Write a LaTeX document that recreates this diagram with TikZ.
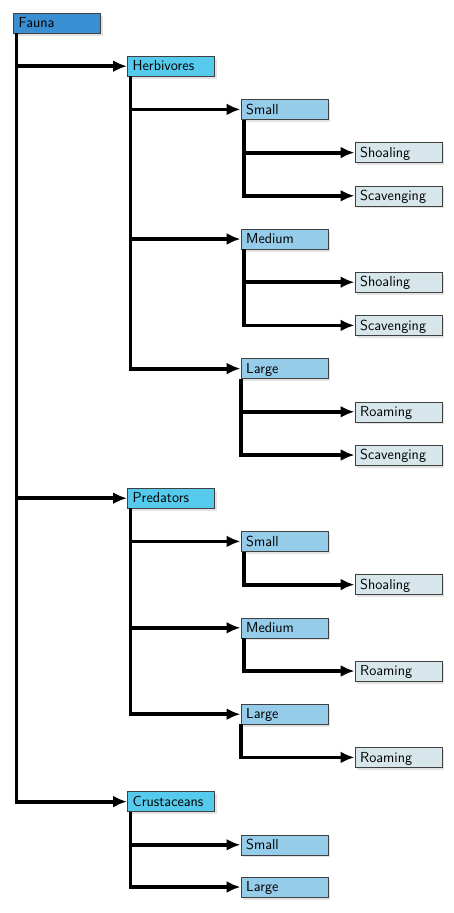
\documentclass[tikz,border=0pt]{standalone}
\usepackage{tikz}
\usetikzlibrary{arrows.meta,shadows,positioning,calc}

\definecolor{rootblue}{HTML}{3A8FD3}
\definecolor{groupcyan}{HTML}{56CAEC}
\definecolor{sizeblue}{HTML}{95CCEA}
\definecolor{habitgray}{HTML}{D6E6EA}

\begin{document}
\begin{tikzpicture}[x=1pt,y=-1pt,
    box/.style={rectangle,draw=black!75,anchor=west,minimum width=87pt,minimum height=20pt,
      text width=76pt,inner xsep=5.5pt,inner ysep=0pt,align=left,text height=11.5pt,text depth=2pt,
      font=\sffamily\fontsize{14.5}{16}\selectfont,
      drop shadow={shadow xshift=2.5pt,shadow yshift=-2.5pt,fill=black!22}},
    rootbox/.style={box,fill=rootblue},
    groupbox/.style={box,fill=groupcyan},
    sizebox/.style={box,fill=sizeblue},
    habitbox/.style={box,fill=habitgray},
    edge/.style={line width=3.8pt,-{Latex[length=14pt,width=12pt]}}]
		\useasboundingbox (0,0) rectangle (454,913);

		\node[rootbox] (fauna) at (13, 23) {Fauna};

		\node[groupbox] (herb) at (127, 66.2) {Herbivores};
		\node[sizebox] (hsmall) at (240.5, 109.4) {Small};
		\node[habitbox] (hshoal) at (354.5, 152.6) {Shoaling};
		\node[habitbox] (hscavA) at (354.5, 195.8) {Scavenging};
		\node[sizebox] (hmedium) at (240.5, 239) {Medium};
		\node[habitbox] (hshoalB) at (354.5, 282.2) {Shoaling};
		\node[habitbox] (hscavB) at (354.5, 325.4) {Scavenging};
		\node[sizebox] (hlarge) at (240.5, 368.6) {Large};
		\node[habitbox] (hroam) at (354.5, 411.8) {Roaming};
		\node[habitbox] (hscavC) at (354.5, 455) {Scavenging};

		\node[groupbox] (pred) at (127, 498.2) {Predators};
		\node[sizebox] (psmall) at (240.5, 541.4) {Small};
		\node[habitbox] (pshoal) at (354.5, 584.6) {Shoaling};
		\node[sizebox] (pmedium) at (240.5, 627.8) {Medium};
		\node[habitbox] (proamA) at (354.5, 671) {Roaming};
		\node[sizebox] (plarge) at (240.5, 714.2) {Large};
		\node[habitbox] (proamB) at (354.5, 757.4) {Roaming};

		\node[groupbox] (crust) at (127, 801.6) {Crustaceans};
		\node[sizebox] (csmall) at (240.5, 844.8) {Small};
		\node[sizebox] (clarge) at (240.5, 887) {Large};

		% fauna
		\draw[edge] ([xshift=3.5pt]fauna.south west) |- (herb.west);
		\draw[edge] ([xshift=3.5pt]fauna.south west) |- (pred.west);
		\draw[edge] ([xshift=3.5pt]fauna.south west) |- (crust.west);
		% herbivores
		\draw[edge] ([xshift=3.5pt]herb.south west) |- (hsmall.west);
		\draw[edge] ([xshift=3.5pt]herb.south west) |- (hmedium.west);
		\draw[edge] ([xshift=3.5pt]herb.south west) |- (hlarge.west);
		\draw[edge] ([xshift=3.5pt]hsmall.south west) |- (hshoal.west);
		\draw[edge] ([xshift=3.5pt]hsmall.south west) |- (hscavA.west);
		\draw[edge] ([xshift=3.5pt]hmedium.south west) |- (hshoalB.west);
		\draw[edge] ([xshift=3.5pt]hmedium.south west) |- (hscavB.west);
		\draw[edge] ([xshift=0.5pt]hlarge.south west) |- (hroam.west);
		\draw[edge] ([xshift=0.5pt]hlarge.south west) |- (hscavC.west);
		% predators
		\draw[edge] ([xshift=3.5pt]pred.south west) |- (psmall.west);
		\draw[edge] ([xshift=3.5pt]pred.south west) |- (pmedium.west);
		\draw[edge] ([xshift=3.5pt]pred.south west) |- (plarge.west);
		\draw[edge] ([xshift=3.5pt]psmall.south west) |- (pshoal.west);
		\draw[edge] ([xshift=3.5pt]pmedium.south west) |- (proamA.west);
		\draw[edge] ([xshift=0.5pt]plarge.south west) |- (proamB.west);
		% crustaceans
		\draw[edge] ([xshift=3.5pt]crust.south west) |- (csmall.west);
		\draw[edge] ([xshift=3.5pt]crust.south west) |- (clarge.west);
	\end{tikzpicture}
\end{document}
